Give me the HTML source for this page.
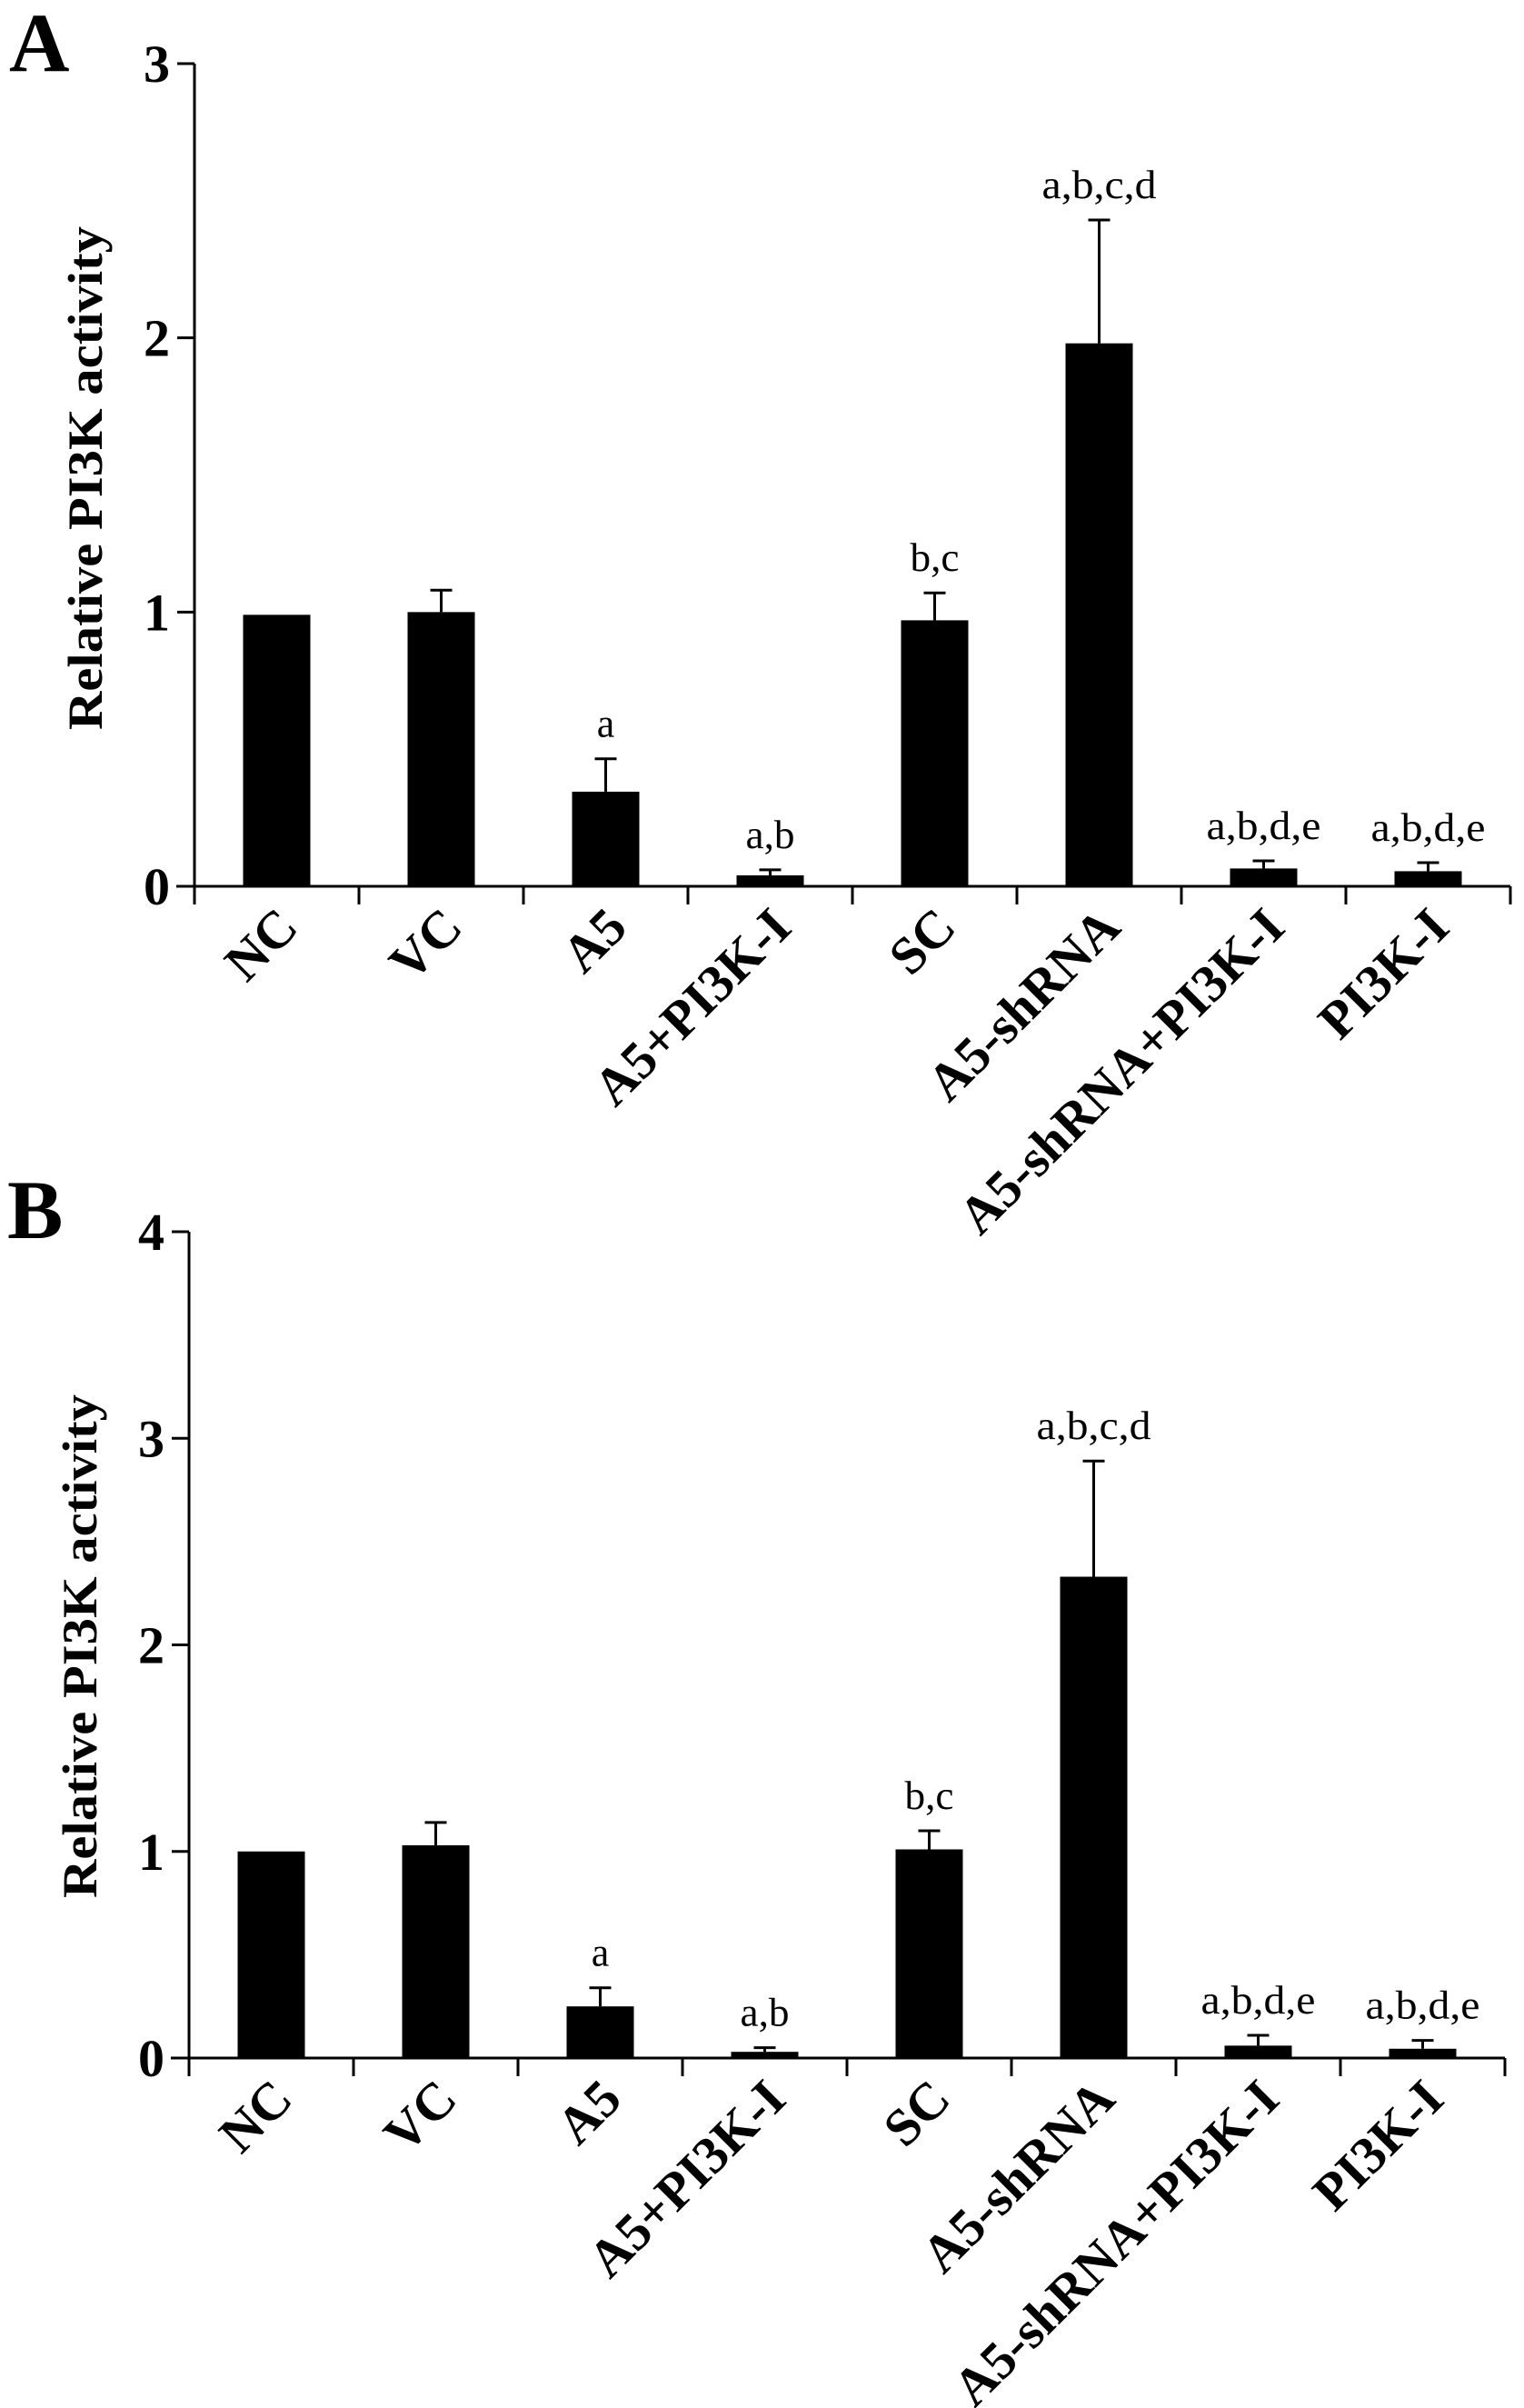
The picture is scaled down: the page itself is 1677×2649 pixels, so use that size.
<!DOCTYPE html>
<html><head><meta charset="utf-8"><style>
html,body{margin:0;padding:0;background:#fff;}
svg{display:block;font-family:"Liberation Serif",serif;}
</style></head><body>
<svg id="fig" width="1677" height="2649" viewBox="0 0 1677 2649" xmlns="http://www.w3.org/2000/svg"></svg>
<script>
const categories = ["NC","VC","A5","A5+PI3K-I","SC","A5-shRNA","A5-shRNA+PI3K-I","PI3K-I"];
const valuesA = [0.99,1.00,0.345,0.04,0.97,1.98,0.065,0.055];
const errA    = [0.995,1.08,0.465,0.06,1.07,2.43,0.093,0.086];
const sigA    = ["","","a","a,b","b,c","a,b,c,d","a,b,d,e","a,b,d,e"];
const ticksA  = [0,1,2,3];
const valuesB = [1.00,1.03,0.25,0.03,1.01,2.33,0.06,0.045];
const errB    = [1.00,1.14,0.34,0.05,1.10,2.89,0.11,0.085];
const sigB    = ["","","a","a,b","b,c","a,b,c,d","a,b,d,e","a,b,d,e"];
const ticksB  = [0,1,2,3,4];

const NS="http://www.w3.org/2000/svg";
const svg=document.getElementById('fig');
function mk(tag,attrs,parent){const e=document.createElementNS(NS,tag);for(const k in attrs)e.setAttribute(k,attrs[k]);(parent||svg).appendChild(e);return e;}

function panel(cfg){
  const g=mk('g',{});
  
  
  const x0=cfg.x0, y0=cfg.y0, band=cfg.band, n=categories.length;
  const ymax=cfg.ticks[cfg.ticks.length-1];
  const yS=v=>y0-(v/ymax)*(y0-cfg.yTop);
  const xC=i=>x0+band*(i+0.5);
  const L=mk('text',{x:cfg.lx,y:cfg.ly,'font-size':92,'font-weight':'bold'},g);
  L.textContent=cfg.letter;
  
  
  const T=mk('text',{x:0,y:0,'font-size':54,'font-weight':'bold','text-anchor':'middle',textLength:554,lengthAdjust:'spacingAndGlyphs',transform:`translate(${cfg.tx},${cfg.ty}) rotate(-90)`},g);
  T.textContent="Relative PI3K activity";
  
  
  const ya=mk('line',{x1:x0,y1:yS(ymax),x2:x0,y2:y0+20,stroke:'#000','stroke-width':3},g);
  
  
  const xa=mk('line',{x1:x0-20,y1:y0,x2:x0+band*n,y2:y0,stroke:'#000','stroke-width':3},g);
  
  
  cfg.ticks.forEach(t=>{
    const tl=mk('line',{x1:x0-19,y1:yS(t),x2:x0,y2:yS(t),stroke:'#000','stroke-width':3},g);
    
    
    const tt=mk('text',{x:x0-27,y:yS(t)+20,'font-size':58,'font-weight':'bold','text-anchor':'end'},g);
    tt.textContent=String(t);
    
    
  });
  for(let i=0;i<=n;i++){
    const xt=mk('line',{x1:x0+band*i,y1:y0,x2:x0+band*i,y2:y0+20,stroke:'#000','stroke-width':3},g);
    
    
  }
  categories.forEach((c,i)=>{
    const cx=xC(i), bw=74;
    const v=cfg.values[i], e=cfg.err[i];
    const bar=mk('rect',{x:cx-bw/2,y:yS(v),width:bw,height:y0-yS(v),fill:'#000'},g);
    
    
    if(e>v+0.005){
      const el=mk('line',{x1:cx,y1:yS(v),x2:cx,y2:yS(e),stroke:'#000','stroke-width':3},g);
      
      
      const ec=mk('line',{x1:cx-12,y1:yS(e),x2:cx+12,y2:yS(e),stroke:'#000','stroke-width':3},g);
      
      
    }
    const s=cfg.sig[i];
    if(s){
      const at={x:cx,y:yS(e)-24,'font-size':44,'text-anchor':'middle'};
      if(s.length>1){at.textLength=s.length*18;at.lengthAdjust='spacingAndGlyphs';}
      const st=mk('text',at,g);
      st.textContent=s;
      
      
    }
    const xl=mk('text',{x:0,y:0,'font-size':58,'font-weight':'bold','text-anchor':'end',transform:`translate(${cx+26},${y0+48}) rotate(-45)`},g);
    xl.textContent=c;
    
    
  });
}
panel({letter:'A',lx:10,ly:78,x0:214,y0:975,yTop:70,band:181,ticks:ticksA,values:valuesA,err:errA,sig:sigA,tx:112,ty:526});
panel({letter:'B',lx:8,ly:1362,x0:208,y0:2264,yTop:1355,band:181,ticks:ticksB,values:valuesB,err:errB,sig:sigB,tx:106,ty:1811});
</script>
</body></html>
